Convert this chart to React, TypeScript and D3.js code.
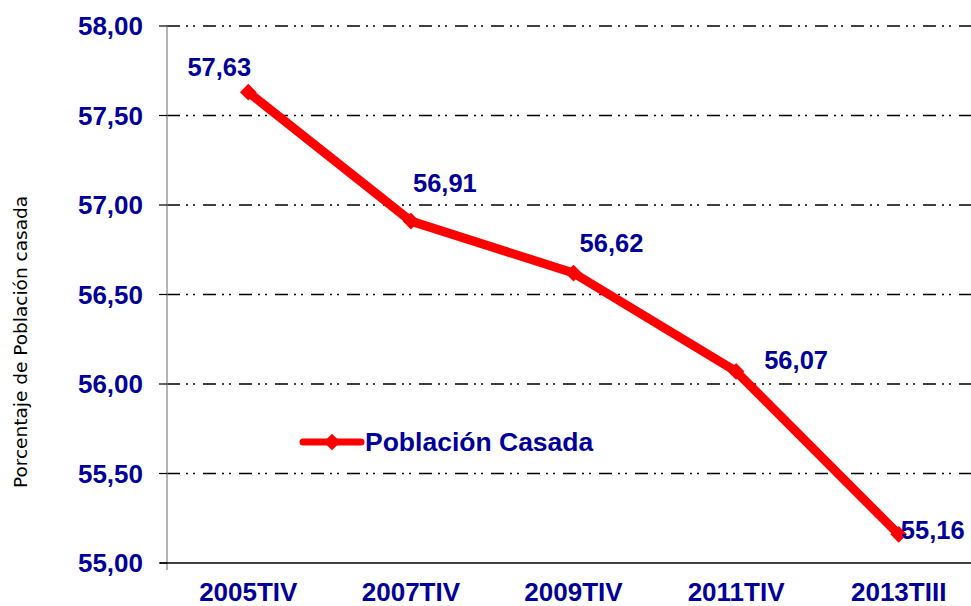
import * as d3 from "d3";

// data
const periods = ["2005TIV", "2007TIV", "2009TIV", "2011TIV", "2013TIII"];
const casada = [57.63, 56.91, 56.62, 56.07, 55.16];
const yTicks = [55, 55.5, 56, 56.5, 57, 57.5, 58];
const seriesName = "Población Casada";
const yTitle = "Porcentaje de Población casada";

// where each data label sits relative to its point (manual Excel placement)
const labelOffsets: [number, number][] = [
    [-29, -25],
    [34, -38],
    [38, -30],
    [60, -11],
    [34, -4],
];

const W = 971;
const H = 606;
const plot = { left: 167, right: 980, top: 26, bottom: 563 };
const navy = "#000099";
const red = "#FF0000";
const font = "'Liberation Sans', Arial, sans-serif";

const es = d3.formatLocale({
    decimal: ",",
    thousands: ".",
    grouping: [3],
    currency: ["", " €"],
});
const fmt = es.format(".2f");

const App = () => {
    const x = d3.scalePoint<string>().domain(periods).range([plot.left, plot.right]).padding(0.5);
    const y = d3.scaleLinear().domain([55, 58]).range([plot.bottom, plot.top]);

    const line = d3
        .line<number>()
        .x((_, i) => x(periods[i]) as number)
        .y((d) => y(d));

    const diamond = d3.symbol().type(d3.symbolSquare).size(140);

    return (
        <svg
            width={W}
            height={H}
            style={{ position: "absolute", left: 0, top: 0, background: "#fff" }}
        >
            {/* grid lines */}
            {yTicks
                .filter((t) => t > 55)
                .map((t) => (
                    <line
                        key={t}
                        x1={plot.left}
                        x2={W}
                        y1={y(t)}
                        y2={y(t)}
                        stroke="#000"
                        strokeWidth={1.6}
                        strokeDasharray="13,6,2,5,2,8"
                    />
                ))}

            {/* y axis */}
            <line
                x1={plot.left}
                x2={plot.left}
                y1={plot.top}
                y2={plot.bottom + 7}
                stroke="#808080"
                strokeWidth={1.2}
            />
            {yTicks.map((t) => (
                <g key={t}>
                    <line
                        x1={plot.left - 8}
                        x2={plot.left}
                        y1={y(t)}
                        y2={y(t)}
                        stroke="#000"
                        strokeWidth={1.2}
                    />
                    <text
                        x={143}
                        y={y(t)}
                        dy="0.35em"
                        textAnchor="end"
                        fontFamily={font}
                        fontWeight="bold"
                        fontSize={26}
                        fill={navy}
                    >
                        {fmt(t)}
                    </text>
                </g>
            ))}

            {/* x axis */}
            <line
                x1={plot.left - 7}
                x2={W}
                y1={plot.bottom}
                y2={plot.bottom}
                stroke="#000"
                strokeWidth={1.4}
            />
            {periods.map((p) => (
                <text
                    key={p}
                    x={x(p)}
                    y={601}
                    textAnchor="middle"
                    fontFamily={font}
                    fontWeight="bold"
                    fontSize={26}
                    fill={navy}
                >
                    {p}
                </text>
            ))}

            {/* y axis title */}
            <text
                transform={`translate(27, 342) rotate(-90)`}
                textAnchor="middle"
                fontFamily="'DejaVu Sans', Verdana, sans-serif"
                fontSize={18.5}
                fill="#000"
            >
                {yTitle}
            </text>

            {/* series */}
            <path
                d={line(casada) ?? ""}
                fill="none"
                stroke={red}
                strokeWidth={9}
                strokeLinejoin="round"
            />
            {casada.map((v, i) => (
                <path
                    key={i}
                    d={diamond() ?? ""}
                    transform={`translate(${x(periods[i])}, ${y(v)}) rotate(45)`}
                    fill={red}
                />
            ))}
            {casada.map((v, i) => (
                <text
                    key={i}
                    x={(x(periods[i]) as number) + labelOffsets[i][0]}
                    y={y(v) + labelOffsets[i][1]}
                    dy="0.35em"
                    textAnchor="middle"
                    fontFamily={font}
                    fontWeight="bold"
                    fontSize={25.5}
                    fill={navy}
                >
                    {fmt(v)}
                </text>
            ))}

            {/* legend */}
            <g transform="translate(303, 442)">
                <line x1={0} x2={58} y1={0} y2={0} stroke={red} strokeWidth={7} strokeLinecap="round" />
                <path d={diamond() ?? ""} transform="translate(29,0) rotate(45)" fill={red} />
                <text
                    x={62}
                    y={0}
                    dy="0.35em"
                    fontFamily={font}
                    fontWeight="bold"
                    fontSize={26.5}
                    fill={navy}
                >
                    {seriesName}
                </text>
            </g>
        </svg>
    );
};

export default App;
